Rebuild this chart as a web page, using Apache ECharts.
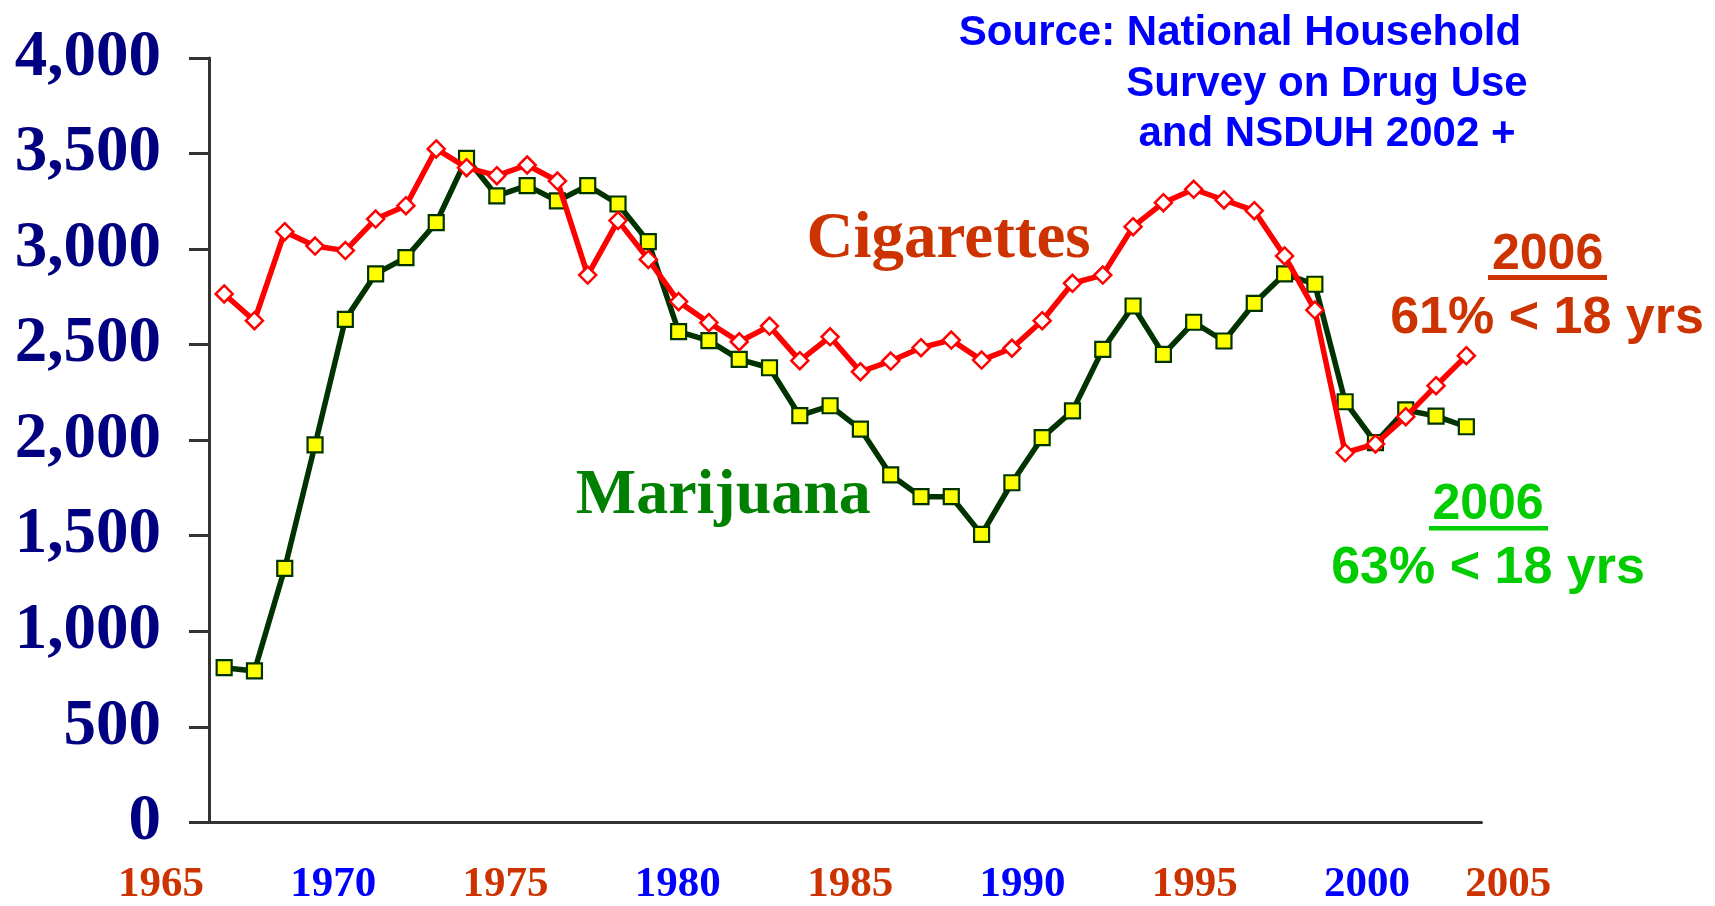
<!DOCTYPE html>
<html>
<head>
<meta charset="utf-8">
<script src="https://cdn.jsdelivr.net/npm/echarts@6/dist/echarts.min.js"></script>
<style>
html,body{margin:0;padding:0;background:#fff;}
#chart{width:1715px;height:906px;}
</style>
</head>
<body>
<div id="chart"></div>
<script>
// ---- data ----
const years = [1965,1966,1967,1968,1969,1970,1971,1972,1973,1974,1975,1976,1977,1978,1979,1980,1981,1982,1983,1984,1985,1986,1987,1988,1989,1990,1991,1992,1993,1994,1995,1996,1997,1998,1999,2000,2001,2002,2003,2004,2005,2006];
const marijuana = [809,792,1329,1975,2632,2870,2955,3138,3475,3278,3332,3252,3332,3236,3039,2568,2521,2423,2379,2128,2180,2058,1818,1704,1704,1507,1777,2013,2153,2475,2702,2449,2617,2519,2716,2870,2816,2201,1987,2158,2126,2070];
const cigarettes = [2765,2625,3091,3016,2992,3157,3227,3524,3426,3384,3440,3356,2864,3149,2946,2725,2615,2515,2597,2416,2541,2358,2414,2484,2524,2419,2481,2625,2821,2864,3117,3243,3313,3257,3201,2964,2681,1934,1980,2123,2285,2442];
const xTickLabels = [1965,1970,1975,1980,1985,1990,1995,2000,2005];
const yTicks = [0,500,1000,1500,2000,2500,3000,3500,4000];

const SERIF = '"Liberation Serif","Times New Roman",serif';
const SANS = '"Liberation Sans",Arial,sans-serif';
const RED = '#CC3300', BLUE = '#0000FF';

// label slots on the decorative year axis (last label sits a bit closer)
const labelSlots = xTickLabels.map((v, i) => i === xTickLabels.length - 1 ? v - 0.9 : v);

const chart = echarts.init(document.getElementById('chart'));
chart.setOption({
  animation: false,
  backgroundColor: '#ffffff',
  grid: [
    {left: 209, right: 233.5, top: 58, bottom: 83.7},
    {left: 161, right: 175.7, top: 58, bottom: 83.7}
  ],
  xAxis: [
    {
      type: 'category', gridIndex: 0, data: years.map(String), boundaryGap: true,
      axisLine: {show: true, lineStyle: {color: '#333333', width: 3}},
      axisTick: {show: false}, axisLabel: {show: false}, splitLine: {show: false}
    },
    {
      type: 'value', gridIndex: 1, min: 1965, max: 2005,
      axisLine: {show: false}, axisTick: {show: false}, splitLine: {show: false},
      axisLabel: {
        show: true,
        customValues: labelSlots,
        margin: 67,
        verticalAlign: 'middle',
        formatter: function (v) {
          const y = Math.round(v / 5) * 5;
          const idx = xTickLabels.indexOf(y);
          return (idx % 2 === 0 ? '{r|' : '{b|') + y + '}';
        },
        rich: {
          r: {color: RED, fontFamily: SERIF, fontWeight: 'bold', fontSize: 43},
          b: {color: BLUE, fontFamily: SERIF, fontWeight: 'bold', fontSize: 43}
        }
      }
    }
  ],
  yAxis: [
    {
      type: 'value', gridIndex: 0, min: yTicks[0], max: yTicks[yTicks.length - 1], interval: 500,
      axisLine: {show: true, lineStyle: {color: '#333333', width: 3}},
      axisTick: {show: true, inside: false, length: 20, lineStyle: {color: '#333333', width: 3}},
      splitLine: {show: false},
      axisLabel: {
        margin: 48, color: '#000080', fontFamily: SERIF, fontWeight: 'bold', fontSize: 65,
        padding: [6, 0, 0, 0],
        formatter: v => v.toLocaleString('en-US')
      }
    },
    {type: 'value', gridIndex: 1, min: 0, max: 4000, show: false}
  ],
  series: [
    {
      name: 'Marijuana', type: 'line', xAxisIndex: 0, yAxisIndex: 0,
      data: marijuana,
      symbol: 'rect', symbolSize: 15,
      lineStyle: {color: '#003300', width: 5.5},
      itemStyle: {color: '#FFFF00', borderColor: '#003300', borderWidth: 2.2},
      z: 2
    },
    {
      name: 'Cigarettes', type: 'line', xAxisIndex: 0, yAxisIndex: 0,
      data: cigarettes,
      symbol: 'diamond', symbolSize: 17,
      lineStyle: {color: '#FF0000', width: 5.5},
      itemStyle: {color: '#FFFFFF', borderColor: '#FF0000', borderWidth: 2.5},
      z: 3
    }
  ],
  graphic: [
    {type: 'text', x: 1240, y: 33, style: {text: 'Source: National Household', fill: BLUE, font: 'bold 42px ' + SANS, align: 'center', verticalAlign: 'middle'}},
    {type: 'text', x: 1327, y: 84.5, style: {text: 'Survey on Drug Use', fill: BLUE, font: 'bold 42px ' + SANS, align: 'center', verticalAlign: 'middle'}},
    {type: 'text', x: 1327, y: 134.5, style: {text: 'and NSDUH 2002 +', fill: BLUE, font: 'bold 42px ' + SANS, align: 'center', verticalAlign: 'middle'}},
    {type: 'text', x: 948.6, y: 240, style: {text: 'Cigarettes', fill: RED, font: 'bold 65px ' + SERIF, align: 'center', verticalAlign: 'middle'}},
    {type: 'text', x: 723.3, y: 496, style: {text: 'Marijuana', fill: '#008000', font: 'bold 64px ' + SERIF, align: 'center', verticalAlign: 'middle'}},
    {type: 'text', x: 1547.6, y: 255, style: {text: '2006', fill: RED, font: 'bold 50px ' + SANS, align: 'center', verticalAlign: 'middle'}},
    {type: 'rect', shape: {x: 1488, y: 275, width: 119, height: 5}, style: {fill: RED}},
    {type: 'text', x: 1547, y: 319, style: {text: '61% < 18 yrs', fill: RED, font: 'bold 52px ' + SANS, align: 'center', verticalAlign: 'middle'}},
    {type: 'text', x: 1488, y: 505.5, style: {text: '2006', fill: '#00CC00', font: 'bold 50px ' + SANS, align: 'center', verticalAlign: 'middle'}},
    {type: 'rect', shape: {x: 1429, y: 526, width: 119, height: 4.5}, style: {fill: '#00CC00'}},
    {type: 'text', x: 1488, y: 569, style: {text: '63% < 18 yrs', fill: '#00CC00', font: 'bold 52px ' + SANS, align: 'center', verticalAlign: 'middle'}}
  ]
});
</script>
</body>
</html>
